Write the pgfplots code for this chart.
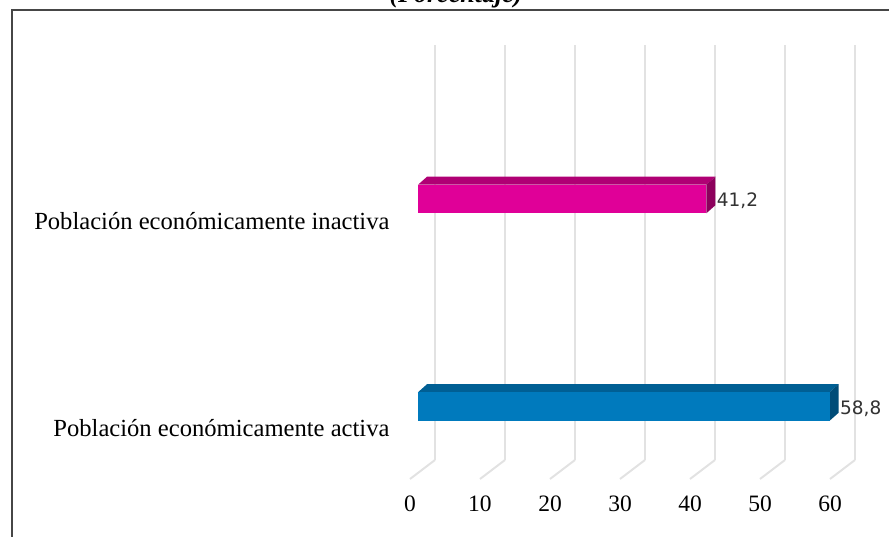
\documentclass[border=0pt]{standalone}
\usepackage{fontspec}
\setmainfont{Liberation Serif}
\newfontfamily\valfont{DejaVu Sans}
\usepackage{pgfplots}
\pgfplotsset{compat=1.18}

\definecolor{magfront}{RGB}{224,0,152}
\definecolor{magtop}{RGB}{176,0,116}
\definecolor{magside}{RGB}{140,0,92}
\definecolor{bluefront}{RGB}{0,122,189}
\definecolor{bluetop}{RGB}{0,95,148}
\definecolor{blueside}{RGB}{0,76,120}
\definecolor{gridcol}{RGB}{226,226,226}
\definecolor{framecol}{RGB}{70,70,70}
\definecolor{valcol}{RGB}{50,50,50}

\begin{document}
\begin{tikzpicture}[x=1pt,y=1pt]
\path[use as bounding box] (0,0) rectangle (889,537);
\draw[framecol, line width=2pt] (11.5,-5) -- (11.5,526.5) -- (895,526.5);
\node[anchor=base, font=\fontsize{26}{28}\selectfont\bfseries\itshape] at (456,534) {(Porcentaje)};

\begin{axis}[
    at={(435pt,77pt)}, anchor=south west,
    scale only axis, width=420pt, height=415pt,
    xmin=0, xmax=60, ymin=0.7422, ymax=2.7422,
    clip=false,
    axis line style={draw=none},
    tick style={draw=none},
    xtick={0,10,...,60},
    ytick={1,2},
    yticklabels={Población económicamente activa, Población económicamente inactiva},
    xmajorgrids,
    grid style={gridcol, line width=2.5pt},
    /pgf/number format/assume math mode=true,
    tick label style={font=\fontsize{23.5}{26}\selectfont, text=black},
    yticklabel style={font=\fontsize{24.6}{27}\selectfont, xshift=-42pt, yshift=-22pt},
    xticklabel style={xshift=-25pt, yshift=-32pt},
  ]

  % floor lines of the 3D grid
  \pgfplotsinvokeforeach{0,10,20,30,40,50,60}{
    \draw[gridcol, line width=2pt] (axis cs:#1,0.7422) -- ([xshift=-25pt,yshift=-19pt]axis cs:#1,0.7422);
  }

  % depth faces
  \addplot[fill=magtop, draw=none, xshift=-17pt] coordinates {(0,2.0687) (41.2,2.0687) (42.486,2.1073) (1.286,2.1073)};
  \addplot[fill=magside, draw=none, xshift=-17pt] coordinates {(41.2,1.9313) (41.2,2.0687) (42.486,2.1073) (42.486,1.9699)};
  \addplot[fill=bluetop, draw=none, xshift=-17pt] coordinates {(0,1.0687) (58.8,1.0687) (60.086,1.1073) (1.286,1.1073)};
  \addplot[fill=blueside, draw=none, xshift=-17pt] coordinates {(58.8,0.9313) (58.8,1.0687) (60.086,1.1073) (60.086,0.9699)};

  % front faces
  \addplot[xbar, bar width=28.5pt, bar shift=0pt, fill=magfront, draw=none, xshift=-17pt,
    nodes near coords,
    nodes near coords style={font=\valfont\fontsize{18.5}{21}\selectfont, text=valcol, xshift=7pt, yshift=-2pt,
      /pgf/number format/.cd, use comma, fixed, precision=1, fixed zerofill}]
    coordinates {(41.2,2)};
  \addplot[xbar, bar width=28.5pt, bar shift=0pt, fill=bluefront, draw=none, xshift=-17pt,
    nodes near coords,
    nodes near coords style={font=\valfont\fontsize{18.5}{21}\selectfont, text=valcol, xshift=7pt, yshift=-2pt,
      /pgf/number format/.cd, use comma, fixed, precision=1, fixed zerofill}]
    coordinates {(58.8,1)};
\end{axis}
\end{tikzpicture}
\end{document}
